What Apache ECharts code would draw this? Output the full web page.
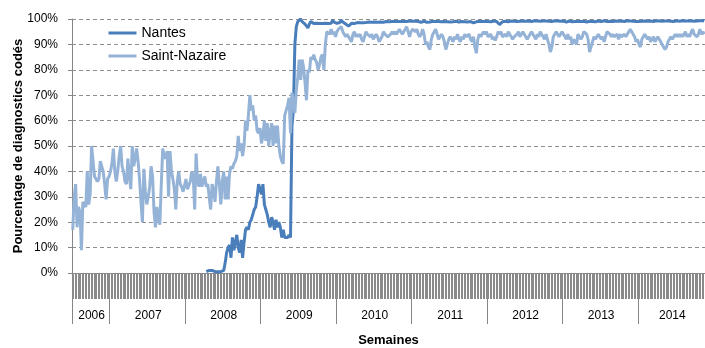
<!DOCTYPE html>
<html>
<head>
<meta charset="utf-8">
<script src="https://cdn.jsdelivr.net/npm/echarts@6/dist/echarts.min.js"></script>
<style>
  html, body { margin: 0; padding: 0; background: #fff; }
  #chart { width: 705px; height: 348px; }
</style>
</head>
<body>
<div id="chart"></div>
<script>
// Weekly share of coded diagnoses (%), one array per calendar year.
const years = [2006, 2007, 2008, 2009, 2010, 2011, 2012, 2013, 2014];
const firstWeekOf2006 = 27;

const stNazaire2006 = [17,30,35,18,26,24,9,28,27,26,40,27,31,50,44,38,37,36,37,44,42,40,35,29,37,38];
const stNazaire2007 = [40,43,49,40,36,40,46,50,42,40,36,35,45,38,33,50,42,45,49,44,37,28,20,41,32,27,30,34,42,38,24,18,26,22,19,35,49,46,45,48,30,48,40,37,33,25,36,40,35,34,32,32];
const stNazaire2008 = [37,33,33,36,40,38,25,47,36,34,39,34,36,38,34,35,30,25,35,33,28,36,42,35,27,36,40,29,38,29,39,42,41,43,44,46,54,48,51,46,50,60,56,62,70,64,66,60,62,56,55,57];
const stNazaire2009 = [51,54,60,52,59,50,55,59,50,58,51,58,50,46,44,43,62,64,66,69,55,71,68,63,72,77,84,76,84,81,75,68,80,79,85,84,86,84,83,80,82,85,86,80,90,95,95,94,96,94,95,93];
const stNazaire2010 = [95,96,96,97,95,94,93,94,93,92,91,94,95,93,94,93,94,92,91,93,95,94,94,93,94,92,93,94,93,91,92,93,95,94,94,93,93,94,95,94,95,94,95,96,95,94,95,96,97,95,93,95];
const stNazaire2011 = [96,96,95,96,94,93,94,96,94,90,91,89,88,92,94,95,96,94,92,93,94,93,91,88,90,92,93,92,91,93,92,94,92,91,93,92,94,93,93,94,92,91,93,89,86.5,92,94,93,94,95,94,95];
const stNazaire2012 = [93,93,94,92,93,91.5,93,95,94,95,93,93,94,93,95,94,94,92,93,93,94,95,93,94,95,94,93,92,93,94,95,94,94,92,94,93,95,94,93,92,94,92,90,87,89,93,94,95,94,93,94,95];
const stNazaire2013 = [94,93,92,94,92,93,90,92,91,90,94,93,92,93,95,95,94,92,87,89,91,93,92,93,94,93,92,93,91,93,95,95,94,93,94,93,93,94,92,94,93,93,94,93,93,95,96,95,94,93,91,92];
const stNazaire2014 = [90,89,92,93,94,93,92,93,91,92,93,91,92,93,92,91,90,89,88,89,91,92,93,92,93,94,93,94,93,94,93,94,95,93,94,93,95,96,94,94,93,94,96,94,95,94];

// Nantes starts reporting in the autumn of 2008 (leading weeks are empty).
const nantes2008 = [null,null,null,null,null,null,null,null,null,null,null,null,null,null,0.5,0.5,1,1,1,0.8,0.5,0.5,0.5,0.5,0.5,0.5,1,4,8,10,11,6,14,9,12,15,10,8,13,6,12,17,18,17,20,21,23,25,26,30,35,33];
const nantes2009 = [31,35,27,25,23,20,18,22,20,17,21,18,20,18,14,17,14,14,14,15,14,58,64,90,97,99,99.5,100,99,98.5,98,97.5,96.5,98,99,98.5,98.2,98.2,98.3,98.2,98.2,98.3,98.2,98.2,98.3,98.2,98.2,98.5,98.3,99.6,98.8,98.4];
const nantes2010 = [98.3,98.4,98.6,99.6,98.8,98.2,98.0,97.6,97.2,97.8,98.3,98.4,98.2,98.5,98.6,98.4,98.5,98.6,98.5,98.7,98.6,98.5,98.8,98.6,98.7,98.5,98.8,98.9,98.7,98.6,98.8,98.9,98.7,98.9,99.0,98.8,98.9,98.7,99.0,98.9,99.1,98.9,99.0,99.2,99.0,98.9,99.1,99.2,99.0,99.1,99.2,99.0];
const nantes2011 = [99.1,99.0,99.2,98.9,99.0,98.8,98.7,99.0,99.1,99.0,98.7,98.5,98.8,99.0,99.1,98.9,99.0,99.2,99.0,98.8,98.9,99.1,99.0,98.7,98.9,99.0,98.8,98.6,98.9,99.0,99.1,99.0,98.8,98.9,99.0,99.1,98.9,99.0,98.8,98.9,99.0,98.7,98.5,98.8,98.9,99.0,99.1,98.9,99.0,99.2,99.1,99.0];
const nantes2012 = [99.0,99.1,98.9,99.0,99.2,99.1,99.0,98.6,97.8,98.4,98.9,99.0,99.1,99.0,98.9,99.1,99.2,99.0,99.1,98.9,99.0,99.2,99.1,99.0,99.2,99.3,99.1,99.0,99.2,99.1,99.0,99.2,99.3,99.1,99.2,99.0,99.1,99.3,99.2,99.1,99.2,99.3,99.1,99.2,99.0,99.2,99.3,99.1,99.2,99.3,99.1,99.2];
const nantes2013 = [99.2,99.0,98.8,99.1,99.2,99.0,98.9,99.1,99.0,99.2,99.1,98.9,99.0,99.2,99.1,99.0,98.8,99.0,99.1,99.2,99.0,99.1,98.9,99.0,99.2,99.1,99.0,99.2,99.3,99.1,99.0,99.2,99.1,98.9,99.0,99.1,99.2,99.0,99.1,99.3,99.2,99.1,99.0,99.2,99.3,99.1,99.2,99.0,99.1,99.2,99.0,99.1];
const nantes2014 = [99.0,99.2,99.1,99.0,99.2,99.3,99.1,99.0,99.2,99.1,99.0,99.2,99.3,99.1,99.2,99.0,99.1,99.3,99.2,99.1,99.2,99.3,99.1,99.2,99.0,99.1,99.3,99.2,99.1,99.2,99.3,99.1,99.2,99.4,99.2,99.1,99.3,99.2,99.1,99.3,99.2,99.1,99.3,99.2,99.4,99.2];

const yTicks = [0, 10, 20, 30, 40, 50, 60, 70, 80, 90, 100];

const stNazaireByYear = [stNazaire2006, stNazaire2007, stNazaire2008, stNazaire2009, stNazaire2010, stNazaire2011, stNazaire2012, stNazaire2013, stNazaire2014];
const nantesByYear = [null, null, nantes2008, nantes2009, nantes2010, nantes2011, nantes2012, nantes2013, nantes2014];

// Build the weekly category list and the year segments.
const weeks = [];
const yearStart = new Set();
const yearMid = new Map();
const stNazaire = [];
const nantes = [];
years.forEach((y, k) => {
  const sn = stNazaireByYear[k];
  const start = weeks.length;
  yearStart.add(start);
  yearMid.set(start + Math.floor(sn.length / 2), String(y));
  const w0 = k === 0 ? firstWeekOf2006 : 1;
  sn.forEach((v, j) => {
    weeks.push('S' + (w0 + j) + ' ' + y);
    stNazaire.push(v);
    const nt = nantesByYear[k];
    nantes.push(nt ? nt[j] : null);
  });
});

const chart = echarts.init(document.getElementById('chart'), null, { renderer: 'canvas' });
const font = '"Liberation Sans", Arial, sans-serif';

chart.setOption({
  animation: false,
  backgroundColor: '#fff',
  grid: { left: 72, right: 0, top: 19, bottom: 75, containLabel: false, outerBoundsMode: 'none' },
  legend: {
    orient: 'vertical',
    left: 102,
    top: 21,
    itemWidth: 28,
    itemHeight: 14,
    itemGap: 9,
    selectedMode: false,
    itemStyle: { opacity: 0 },
    lineStyle: { width: 3 },
    textStyle: { fontFamily: font, fontSize: 14, color: '#000' },
    data: ['Nantes', 'Saint-Nazaire']
  },
  xAxis: [
    {
      type: 'category',
      data: weeks,
      boundaryGap: true,
      axisLine: { show: true, lineStyle: { color: '#868686', width: 1 } },
      axisTick: { show: true, interval: 0, length: 26, lineStyle: { color: '#8a8a8a', width: 1 } },
      axisLabel: { show: false },
      splitLine: { show: false }
    },
    {
      type: 'category',
      data: weeks,
      position: 'bottom',
      offset: 26,
      boundaryGap: true,
      axisLine: { show: false },
      axisTick: {
        show: true,
        length: 25,
        interval: (i) => yearStart.has(i),
        lineStyle: { color: '#868686', width: 1 }
      },
      axisLabel: {
        show: true,
        interval: (i) => yearMid.has(i),
        formatter: (v, i) => yearMid.get(i) || '',
        margin: 11,
        fontFamily: font,
        fontSize: 12,
        color: '#000'
      },
      name: 'Semaines',
      nameLocation: 'middle',
      nameGap: 35,
      nameMoveOverlap: false,
      nameTextStyle: { fontFamily: font, fontSize: 13, fontWeight: 'bold', color: '#000' },
      splitLine: { show: false }
    }
  ],
  yAxis: {
    type: 'value',
    min: yTicks[0],
    max: yTicks[yTicks.length - 1],
    interval: 10,
    axisLine: { show: true, lineStyle: { color: '#868686', width: 1 } },
    axisTick: { show: true, length: 4, lineStyle: { color: '#868686' } },
    axisLabel: {
      formatter: '{value}%',
      margin: 14,
      fontFamily: font,
      fontSize: 12,
      color: '#000'
    },
    splitLine: { show: true, lineStyle: { color: '#8f8f8f', width: 1, type: [4, 3] } },
    name: 'Pourcentage de diagnostics codés',
    nameLocation: 'middle',
    nameGap: 47,
    nameMoveOverlap: false,
    nameTextStyle: { fontFamily: font, fontSize: 13, fontWeight: 'bold', color: '#000' }
  },
  series: [
    {
      name: 'Nantes',
      type: 'line',
      data: nantes,
      xAxisIndex: 0,
      symbol: 'none',
      connectNulls: false,
      lineStyle: { color: '#4a7ebb', width: 3 },
      itemStyle: { color: '#4a7ebb' }
    },
    {
      name: 'Saint-Nazaire',
      type: 'line',
      data: stNazaire,
      xAxisIndex: 0,
      symbol: 'none',
      lineStyle: { color: '#95b3d7', width: 3 },
      itemStyle: { color: '#95b3d7' }
    }
  ]
});
</script>
</body>
</html>
